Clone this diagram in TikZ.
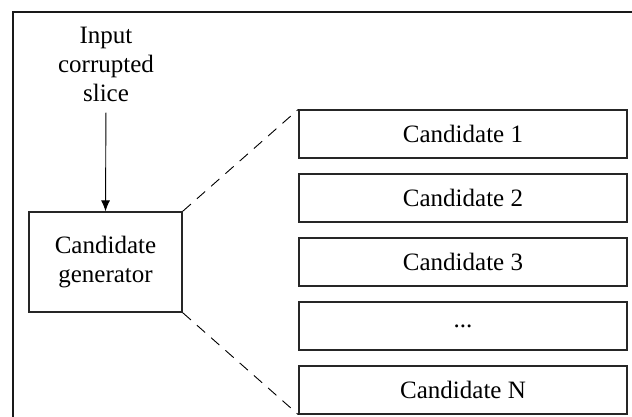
\documentclass[tikz,border=0pt]{standalone}
\usepackage{fontspec}
\setmainfont{Liberation Serif}
\usetikzlibrary{arrows.meta}
\begin{document}
\begin{tikzpicture}[x=1pt,y=-1pt,
  every node/.style={font=\fontsize{25}{29}\selectfont},
  candbox/.style={draw=black!85,line width=1.3pt,minimum width=328pt,minimum height=48pt,inner sep=0pt},
  genbox/.style={draw=black!85,line width=1.3pt,minimum width=153pt,minimum height=100pt,inner sep=0pt,align=center},
  dashline/.style={line width=0.9pt,dash pattern=on 11pt off 8pt},
  feed/.style={line width=0.9pt,-{Latex[length=11pt,width=9pt]}}
]
\useasboundingbox (0,0) rectangle (632,417);
% frame
\draw[line width=2.6pt,black!90] (13,417) -- (13,12) -- (632,12);
% input text
\node[align=center,inner sep=0pt] (in) at (106,64) {Input\\corrupted\\slice};
% generator
\node[genbox] (gen) at (105.5,262) {Candidate\\generator};
% candidates
\node[candbox] (c1) at (463,134) {Candidate 1};
\node[candbox] (c2) at (463,198) {Candidate 2};
\node[candbox] (c3) at (463,262) {Candidate 3};
\node[candbox] (c4) at (463,326) {...};
\node[candbox] (cN) at (463,390) {Candidate N};
% connectors
\draw[feed,shorten <=11pt] (in.south) -- (gen.north);
\draw[dashline] (gen.north east) -- (c1.north west);
\draw[dashline] (gen.south east) -- (cN.south west);
\end{tikzpicture}
\end{document}
